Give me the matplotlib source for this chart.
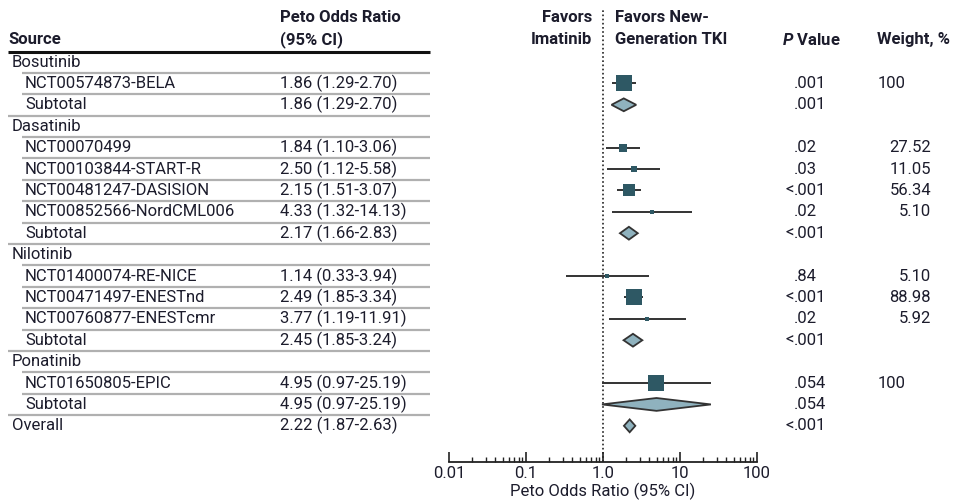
import numpy as np
import matplotlib
matplotlib.use("Agg")
import matplotlib.pyplot as plt
from matplotlib.transforms import blended_transform_factory

plt.rcParams['font.family'] = ['Roboto', 'DejaVu Sans']
plt.rcParams['mathtext.fontset'] = 'custom'
plt.rcParams['mathtext.it'] = 'Roboto:italic:bold'
plt.rcParams['mathtext.rm'] = 'Roboto:bold'

nan = np.nan

# rows of the forest plot, top to bottom
row_labels = ["Bosutinib", "NCT00574873-BELA", "Subtotal",
              "Dasatinib", "NCT00070499", "NCT00103844-START-R", "NCT00481247-DASISION",
              "NCT00852566-NordCML006", "Subtotal",
              "Nilotinib", "NCT01400074-RE-NICE", "NCT00471497-ENESTnd", "NCT00760877-ENESTcmr",
              "Subtotal",
              "Ponatinib", "NCT01650805-EPIC", "Subtotal",
              "Overall"]
row_kind = ["group", "study", "sub",
            "group", "study", "study", "study", "study", "sub",
            "group", "study", "study", "study", "sub",
            "group", "study", "sub",
            "total"]
odds = [nan, 1.86, 1.86, nan, 1.84, 2.50, 2.15, 4.33, 2.17,
        nan, 1.14, 2.49, 3.77, 2.45, nan, 4.95, 4.95, 2.22]
ci_low = [nan, 1.29, 1.29, nan, 1.10, 1.12, 1.51, 1.32, 1.66,
          nan, 0.33, 1.85, 1.19, 1.85, nan, 0.97, 0.97, 1.87]
ci_high = [nan, 2.70, 2.70, nan, 3.06, 5.58, 3.07, 14.13, 2.83,
           nan, 3.94, 3.34, 11.91, 3.24, nan, 25.19, 25.19, 2.63]
p_values = ["", ".001", ".001", "", ".02", ".03", "<.001", ".02", "<.001",
            "", ".84", "<.001", ".02", "<.001", "", ".054", ".054", "<.001"]
weights = [nan, 100, nan, nan, 27.52, 11.05, 56.34, 5.10, nan,
           nan, 5.10, 88.98, 5.92, nan, nan, 100, nan, nan]

tick_vals = [0.01, 0.1, 1, 10, 100]
tick_labels = ["0.01", "0.1", "1.0", "10", "100"]

W, H = 955, 500
txt = '#1c1c2c'
sq_col = '#2e5864'
dia_col = '#8fb2be'
fs = 12

fig = plt.figure(figsize=(W / 100, H / 100), dpi=100)
# forest panel: x 449..757 px, y 10..462 px
ax = fig.add_axes([449 / W, (H - 462) / H, (757 - 449) / W, 452 / H])
ax.set_xscale('log')
ax.set_xlim(0.01, 100)
ax.set_ylim(18.69, -2.43)
for s in ['top', 'left', 'right']:
    ax.spines[s].set_visible(False)
ax.spines['bottom'].set_linewidth(1.3)
ax.spines['bottom'].set_color('#222')
ax.set_yticks([])
ax.set_xticks(tick_vals)
ax.set_xticklabels(tick_labels, fontsize=fs, color=txt)
ax.tick_params(axis='x', which='major', direction='in', length=7, width=1.2, pad=3, color='#222')
ax.tick_params(axis='x', which='minor', direction='in', length=3.5, width=1.0, color='#222')
ax.xaxis.set_minor_locator(matplotlib.ticker.LogLocator(base=10, subs=np.arange(2, 10)))
ax.xaxis.set_minor_formatter(matplotlib.ticker.NullFormatter())
ax.set_xlabel("Peto Odds Ratio (95% CI)", fontsize=fs, color=txt, labelpad=1)

ax.axvline(1, color='#222', lw=1.2, ls=(0, (1, 1.5)), zorder=1)

# pixel x in figure, data y
tr = blended_transform_factory(fig.transFigure, ax.transData)

def px(x):
    return x / W

n = len(row_labels)
for i in range(n):
    kind = row_kind[i]
    xl = 25 if kind in ('study', 'sub') else 12
    ax.text(px(xl), i, row_labels[i], transform=tr, fontsize=fs, color=txt, va='center', ha='left')
    if not np.isnan(odds[i]):
        ci = f"{odds[i]:.2f} ({ci_low[i]:.2f}-{ci_high[i]:.2f})"
        ax.text(px(280), i, ci, transform=tr, fontsize=fs, color=txt, va='center', ha='left')
    p = p_values[i]
    if p:
        if p.startswith('<'):
            ax.text(px(794), i, '<', transform=tr, fontsize=fs, color=txt, va='center', ha='right')
            p = p[1:]
        ax.text(px(794), i, p, transform=tr, fontsize=fs, color=txt, va='center', ha='left')
    w = weights[i]
    if not np.isnan(w):
        if w == 100:
            ax.text(px(878), i, "100", transform=tr, fontsize=fs, color=txt, va='center', ha='left')
        else:
            ax.text(px(931), i, f"{w:.2f}", transform=tr, fontsize=fs, color=txt, va='center', ha='right')
    # separator line above the row
    if i > 0:
        x0 = 22 if kind in ('study', 'sub') else 8
        ax.plot([px(x0), px(430)], [i - 0.5, i - 0.5], transform=tr, color='#b0b0b0',
                lw=1.6, clip_on=False, solid_capstyle='butt')

    # marks
    if np.isnan(odds[i]):
        continue
    if kind == 'study':
        ax.plot([ci_low[i], ci_high[i]], [i, i], color='#333', lw=1.4, zorder=2,
                solid_capstyle='butt')
        side = 1.6 * np.sqrt(w) * 0.72
        ax.scatter([odds[i]], [i], marker='s', s=side ** 2, color=sq_col, zorder=3, linewidths=0)
    else:
        hh = 0.3
        ax.fill([ci_low[i], odds[i], ci_high[i], odds[i]], [i, i - hh, i, i + hh],
                facecolor=dia_col, edgecolor='#333', lw=1.3, zorder=3)

# header
ax.plot([px(8), px(430)], [-0.47, -0.47], transform=tr, color='#111', lw=2.2,
        clip_on=False, solid_capstyle='butt')
hd = dict(transform=tr, fontsize=fs, color=txt, va='center', fontweight='bold')
ax.text(px(8), -1.03, "Source", ha='left', **hd)
ax.text(px(280), -2.1, "Peto Odds Ratio", ha='left', **hd)
ax.text(px(280), -1.03, "(95% CI)", ha='left', **hd)
ax.text(px(592), -2.1, "Favors", ha='right', **hd)
ax.text(px(592), -1.03, "Imatinib", ha='right', **hd)
ax.text(px(615), -2.1, "Favors New-", ha='left', **hd)
ax.text(px(615), -1.03, "Generation TKI", ha='left', **hd)
ax.text(px(782), -1.03, r"$\it{P}$ Value", ha='left', **hd)
ax.text(px(877), -1.03, "Weight, %", ha='left', **hd)

fig.savefig("out.png", dpi=100)
